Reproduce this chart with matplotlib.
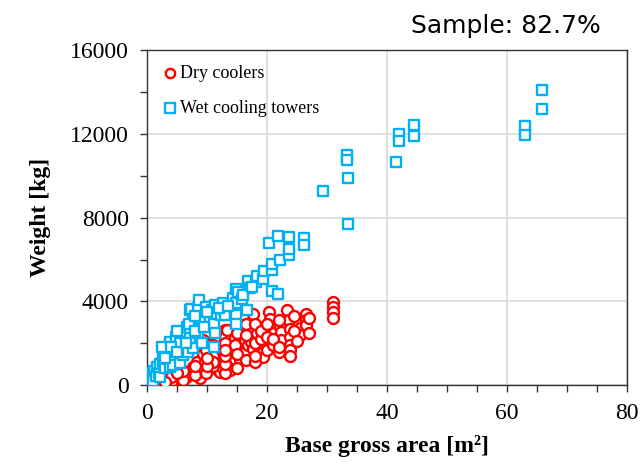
import matplotlib
matplotlib.use("Agg")
import matplotlib.pyplot as plt
from matplotlib.ticker import MultipleLocator

# -------- DONNÉES --------
dry_x = [0.3, 0.8, 1.5, 2.0, 2.7, 3.3, 4.4, 5.5, 6.1, 7.2, 6.5, 7.7, 8.3, 8.8, 8.8,
         9.4, 9.7, 9.9, 10.8, 10.8, 11.3, 11.9, 12.2, 12.5, 12.7, 12.7, 13.0, 13.0,
         13.0, 13.0, 13.0, 13.0, 13.3, 13.8, 13.8, 14.7, 14.7, 14.7, 15.5, 16.3, 16.3,
         16.9, 17.4, 17.4, 17.7, 17.7, 18.3, 19.4, 19.4, 19.4, 20.4, 20.5, 20.8, 21.1,
         22.2, 22.4, 22.4, 23.3, 23.7, 23.8, 23.8, 23.8, 23.8, 23.8, 25.5, 25.5, 26.5,
         26.5, 26.5, 30.9, 30.9, 30.9, 30.9, 9.4, 9.9, 11.0,
         13.0, 13.0, 13.0, 13.0, 15.0, 15.0, 15.0, 16.5, 16.5, 16.5, 18.0, 18.0, 18.0,
         18.0, 19.0, 19.0, 20.0, 20.0, 20.0, 21.0, 21.0, 22.0, 22.0, 22.0, 24.5, 24.5,
         25.0, 27.0, 27.0, 11.0, 11.0, 11.0, 10.0, 10.0, 8.0, 8.0, 6.0, 6.0, 4.0, 5.0,
         3.0, 1.0]
dry_y = [30, 60, 100, 150, 80, 200, 240, 320, 560, 560, 400, 870, 1110, 320, 700,
         1510, 1110, 560, 1750, 1350, 2300, 720, 640, 870, 1110, 1510, 2540, 2230,
         1910, 2620, 2300, 1990, 2620, 720, 1510, 1270, 2230, 1910, 1190, 2180, 1590,
         1910, 2700, 2070, 3420, 1750, 2470, 1910, 1590, 1350, 3470, 3180, 2070, 2470,
         2780, 2540, 2150, 3580, 3100, 2700, 2300, 1910, 1670, 1380, 2750, 2390, 3390,
         3130, 2860, 3970, 3740, 3500, 3230, 2150, 1670, 900,
         600, 1000, 1400, 1700, 800, 1500, 2500, 1200, 2400, 2900, 1100, 1400, 2000,
         2900, 2200, 2600, 1700, 2300, 2900, 1900, 2200, 1600, 1800, 3100, 2600, 3300,
         2100, 2500, 3200, 1400, 1900, 1100, 900, 1300, 500, 900, 250, 700, 400, 600,
         150, 50]

wet_x = [0.0, 0.2, 0.3, 0.5, 0.6, 0.8, 1.0, 1.0, 1.2, 1.5, 1.6, 2.0, 2.2, 2.2, 2.7,
         2.7, 3.0, 3.3, 3.5, 3.8, 3.8, 3.8, 4.4, 4.4, 4.9, 5.5, 5.5, 6.0, 6.0, 6.3,
         6.6, 6.9, 7.2, 7.2, 7.2, 7.3, 7.7, 7.7, 8.5, 8.5, 8.6, 8.8, 9.1, 9.1, 9.9,
         10.5, 10.5, 10.8, 11.1, 11.1, 11.1, 11.3, 11.3, 12.4, 12.7, 12.9, 13.0, 13.0,
         14.3, 14.7, 14.8, 14.9, 14.9, 14.9, 15.2, 15.8, 16.6, 16.9, 17.2, 18.1, 18.3,
         19.4, 19.5, 20.4, 20.8, 20.8, 20.9, 21.8, 21.9, 22.2, 23.6, 23.6, 23.7, 26.2,
         26.2, 29.4, 33.3, 33.3, 33.4, 33.4, 41.5, 41.9, 41.9, 44.4, 44.4, 62.9, 62.9,
         65.8, 65.8,
         2.5, 3.0, 4.0, 5.0, 5.0, 6.5, 7.0, 8.0, 8.0, 9.5, 10.0, 12.0, 13.5, 16.0, 17.5]
wet_y = [330, 100, 250, 400, 150, 300, 570, 200, 700, 450, 870, 600, 1000, 400, 1110,
         1430, 800, 1590, 1250, 2070, 870, 1590, 1350, 950, 2300, 2000, 1050, 2540,
         1430, 2540, 2780, 1590, 3580, 2720, 2240, 3630, 3020, 1760, 3670, 2480, 4050,
         2860, 3100, 2000, 3740, 3260, 3150, 3580, 3420, 2910, 1830, 3820, 2470, 3340,
         3910, 3610, 3660, 3340, 4150, 3610, 4610, 3900, 3340, 2940, 4450, 4130, 3580,
         4960, 4640, 4930, 5210, 5090, 5450, 6790, 5490, 4500, 5800, 7110, 4370, 5960,
         6200, 6520, 7070, 7040, 6680, 9290, 10980, 10740, 9910, 7700, 10640, 12010,
         11650, 12410, 11890, 12360, 11950, 14080, 13200,
         1800, 1300, 1800, 1600, 2600, 2000, 2900, 2600, 3300, 2800, 3500, 3700, 3800,
         4300, 4700]

serif = "Liberation Serif"

fig = plt.figure(figsize=(6.42, 4.68), dpi=100)
ax = fig.add_axes([0.229, 0.177, 0.748, 0.716])

ax.scatter(dry_x, dry_y, s=62, marker="o", facecolors="white",
           edgecolors="#FF0000", linewidths=1.7, label="Dry coolers", zorder=3)
ax.scatter(wet_x, wet_y, s=62, marker="s", facecolors="white",
           edgecolors="#00B0F0", linewidths=1.7, label="Wet cooling towers", zorder=4)

ax.set_xlim(0, 80)
ax.set_ylim(0, 16000)
ax.xaxis.set_major_locator(MultipleLocator(20))
ax.xaxis.set_minor_locator(MultipleLocator(5))
ax.yaxis.set_major_locator(MultipleLocator(4000))
ax.yaxis.set_minor_locator(MultipleLocator(2000))
ax.tick_params(which="both", direction="out", length=5, width=1, color="#333333")
ax.tick_params(labelsize=17, pad=8)
for lab in ax.get_xticklabels() + ax.get_yticklabels():
    lab.set_fontfamily(serif)

ax.grid(True, which="major", color="#D9D9D9", linewidth=1.2, zorder=0)
ax.set_axisbelow(True)
for sp in ax.spines.values():
    sp.set_color("#333333")
    sp.set_linewidth(1)

ax.set_xlabel("Base gross area [m²]", fontsize=17, fontweight="bold",
              fontfamily=serif, labelpad=8)
ax.set_ylabel("Weight [kg]", fontsize=17, fontweight="bold",
              fontfamily=serif, labelpad=14)

ax.legend(loc="upper left", frameon=False, prop={"family": serif, "size": 13},
          handletextpad=0.05, borderaxespad=0.4, labelspacing=1.0,
          handlelength=1.0, markerscale=0.85)

fig.text(0.935, 0.945, "Sample: 82.7%", ha="right", va="center",
         fontsize=18, fontfamily="DejaVu Sans")

plt.savefig("out.png")
